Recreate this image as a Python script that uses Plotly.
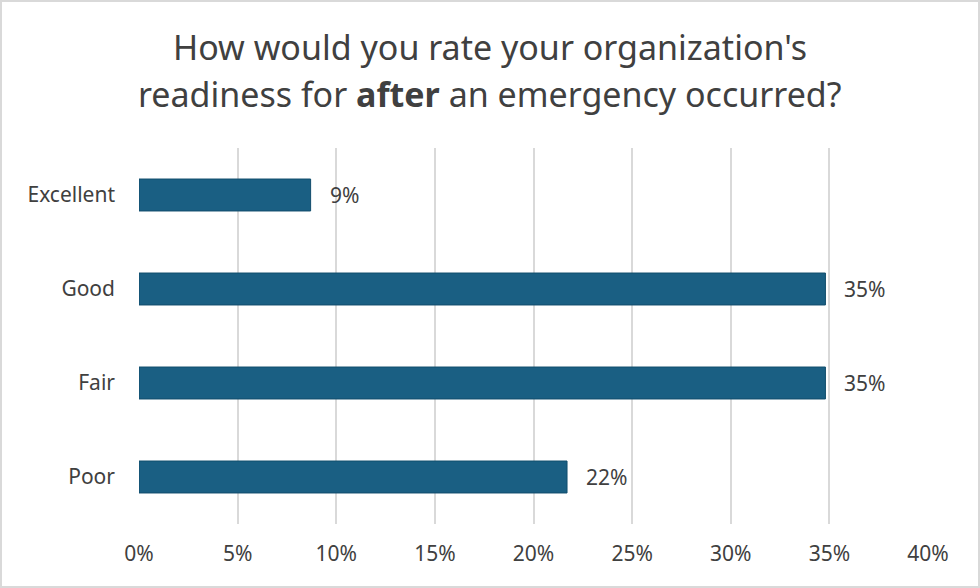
import plotly.graph_objects as go

categories = ["Excellent", "Good", "Fair", "Poor"]
shares = [0.087, 0.348, 0.348, 0.217]
labels = ["9%", "35%", "35%", "22%"]
tick_vals = [0, 0.05, 0.10, 0.15, 0.20, 0.25, 0.30, 0.35, 0.40]

W, H = 980, 588
L, R, T, B = 139, 52, 148, 64
pw, ph = W - L - R, H - T - B

FONT = "Noto Sans, Open Sans, sans-serif"
TXT = "#404040"

fig = go.Figure()
fig.add_trace(go.Bar(
    y=categories, x=shares, orientation="h",
    marker=dict(color="#1a5f83", line=dict(color="#114d6c", width=1)),
    width=0.34, showlegend=False, hoverinfo="x+y",
))

# value labels a bit away from the bar ends
for cat, val, lab in zip(categories, shares, labels):
    fig.add_annotation(x=val, y=cat, text=lab, showarrow=False,
                       xanchor="left", yanchor="middle", xshift=17,
                       font=dict(size=21, color=TXT, family=FONT))


def px_x(v):
    return (v - L) / pw


def px_y(v):
    return (H - B - v) / ph


# thin frame around the whole picture
fig.add_shape(type="rect", xref="paper", yref="paper",
              x0=px_x(1), x1=px_x(W - 1), y0=px_y(H - 1), y1=px_y(1),
              line=dict(color="#d9d9d9", width=2), fillcolor="rgba(0,0,0,0)", layer="below")

fig.add_annotation(text="How would you rate your organization's", xref="paper", yref="paper",
                   x=px_x(W / 2), y=px_y(47), showarrow=False, xanchor="center", yanchor="middle",
                   font=dict(size=34, color=TXT, family=FONT))
fig.add_annotation(text="readiness for <b>after</b> an emergency occurred?", xref="paper", yref="paper",
                   x=px_x(W / 2), y=px_y(94), showarrow=False, xanchor="center", yanchor="middle",
                   font=dict(size=34, color=TXT, family=FONT))

fig.update_layout(
    width=W, height=H,
    margin=dict(l=L, r=R, t=T, b=B),
    plot_bgcolor="white", paper_bgcolor="white",
    xaxis=dict(range=[0, 0.40], tickvals=tick_vals, tickformat=".0%",
               showgrid=True, gridcolor="#d9d9d9", gridwidth=1.5,
               zeroline=False, showline=False, ticks="", fixedrange=True,
               tickfont=dict(size=21, color=TXT, family=FONT), ticklabelstandoff=15),
    yaxis=dict(categoryorder="array", categoryarray=categories[::-1],
               showgrid=False, zeroline=False, showline=False, ticks="", fixedrange=True,
               tickfont=dict(size=21, color=TXT, family=FONT), ticklabelstandoff=23),
)

# drop the page's default body margin so the figure sits at the window corner
fig.write_html("out.html", config={"displayModeBar": False},
               post_script="document.body.style.margin='0';")
